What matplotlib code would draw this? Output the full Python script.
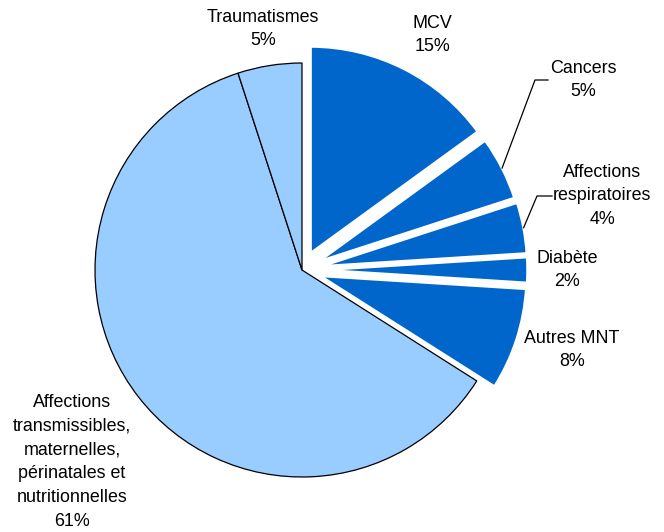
import numpy as np
import matplotlib.pyplot as plt

# Causes de décès (part en %)
causes = ['MCV', 'Cancers', 'Affections\nrespiratoires', 'Diabète', 'Autres MNT',
          'Affections\ntransmissibles,\nmaternelles,\npérinatales et\nnutritionnelles',
          'Traumatismes']
parts = [15, 5, 4, 2, 8, 61, 5]

dark = '#0066CC'
light = '#99CCFF'
colors = [dark] * 5 + [light] * 2
explode = [0.09, 0.085, 0.09, 0.09, 0.09, 0, 0]

# label block centres (pixel positions in the 664x532 figure)
label_px = [(432, 35), (583, 80), (602, 196), (567, 270), (572, 350),
            (72, 462), (263, 29)]
# leader line elbow/end for the small slices
leaders = {1: [(535, 80), (548, 80)], 2: [(537, 196), (552, 196)]}

plt.rcParams['font.family'] = ['Liberation Sans', 'DejaVu Sans']

fig = plt.figure(figsize=(6.64, 5.32), dpi=100)
ax = fig.add_axes([0, 0, 1, 1])
R = 207.0
cx, cy = 302.0, 270.0


def to_data(px, py):
    return (px - cx) / R, (cy - py) / R


wedges, _ = ax.pie(parts, colors=colors, explode=explode, startangle=90,
                   counterclock=False, radius=1, center=(0, 0))
for i, w in enumerate(wedges):
    if colors[i] == dark:
        w.set_edgecolor('white')
        w.set_linewidth(2.0)
    else:
        w.set_edgecolor('black')
        w.set_linewidth(0.9)

for i, (name, p) in enumerate(zip(causes, parts)):
    tx, ty = to_data(*label_px[i])
    ax.text(tx, ty, f'{name}\n{p}%', ha='center', va='center',
            fontsize=12.9, linespacing=1.53, color='black')

for i, pts in leaders.items():
    w = wedges[i]
    mid = np.deg2rad((w.theta1 + w.theta2) / 2)
    ox, oy = w.center
    ax_x = ox + 1.0 * np.cos(mid)
    ax_y = oy + 1.0 * np.sin(mid)
    xs = [ax_x] + [to_data(*p)[0] for p in pts]
    ys = [ax_y] + [to_data(*p)[1] for p in pts]
    ax.plot(xs, ys, color='black', lw=0.9)

ax.set_xlim(-cx / R, (664 - cx) / R)
ax.set_ylim(-(532 - cy) / R, cy / R)
ax.set_aspect('equal')
ax.axis('off')

fig.savefig('out.png', dpi=100)
